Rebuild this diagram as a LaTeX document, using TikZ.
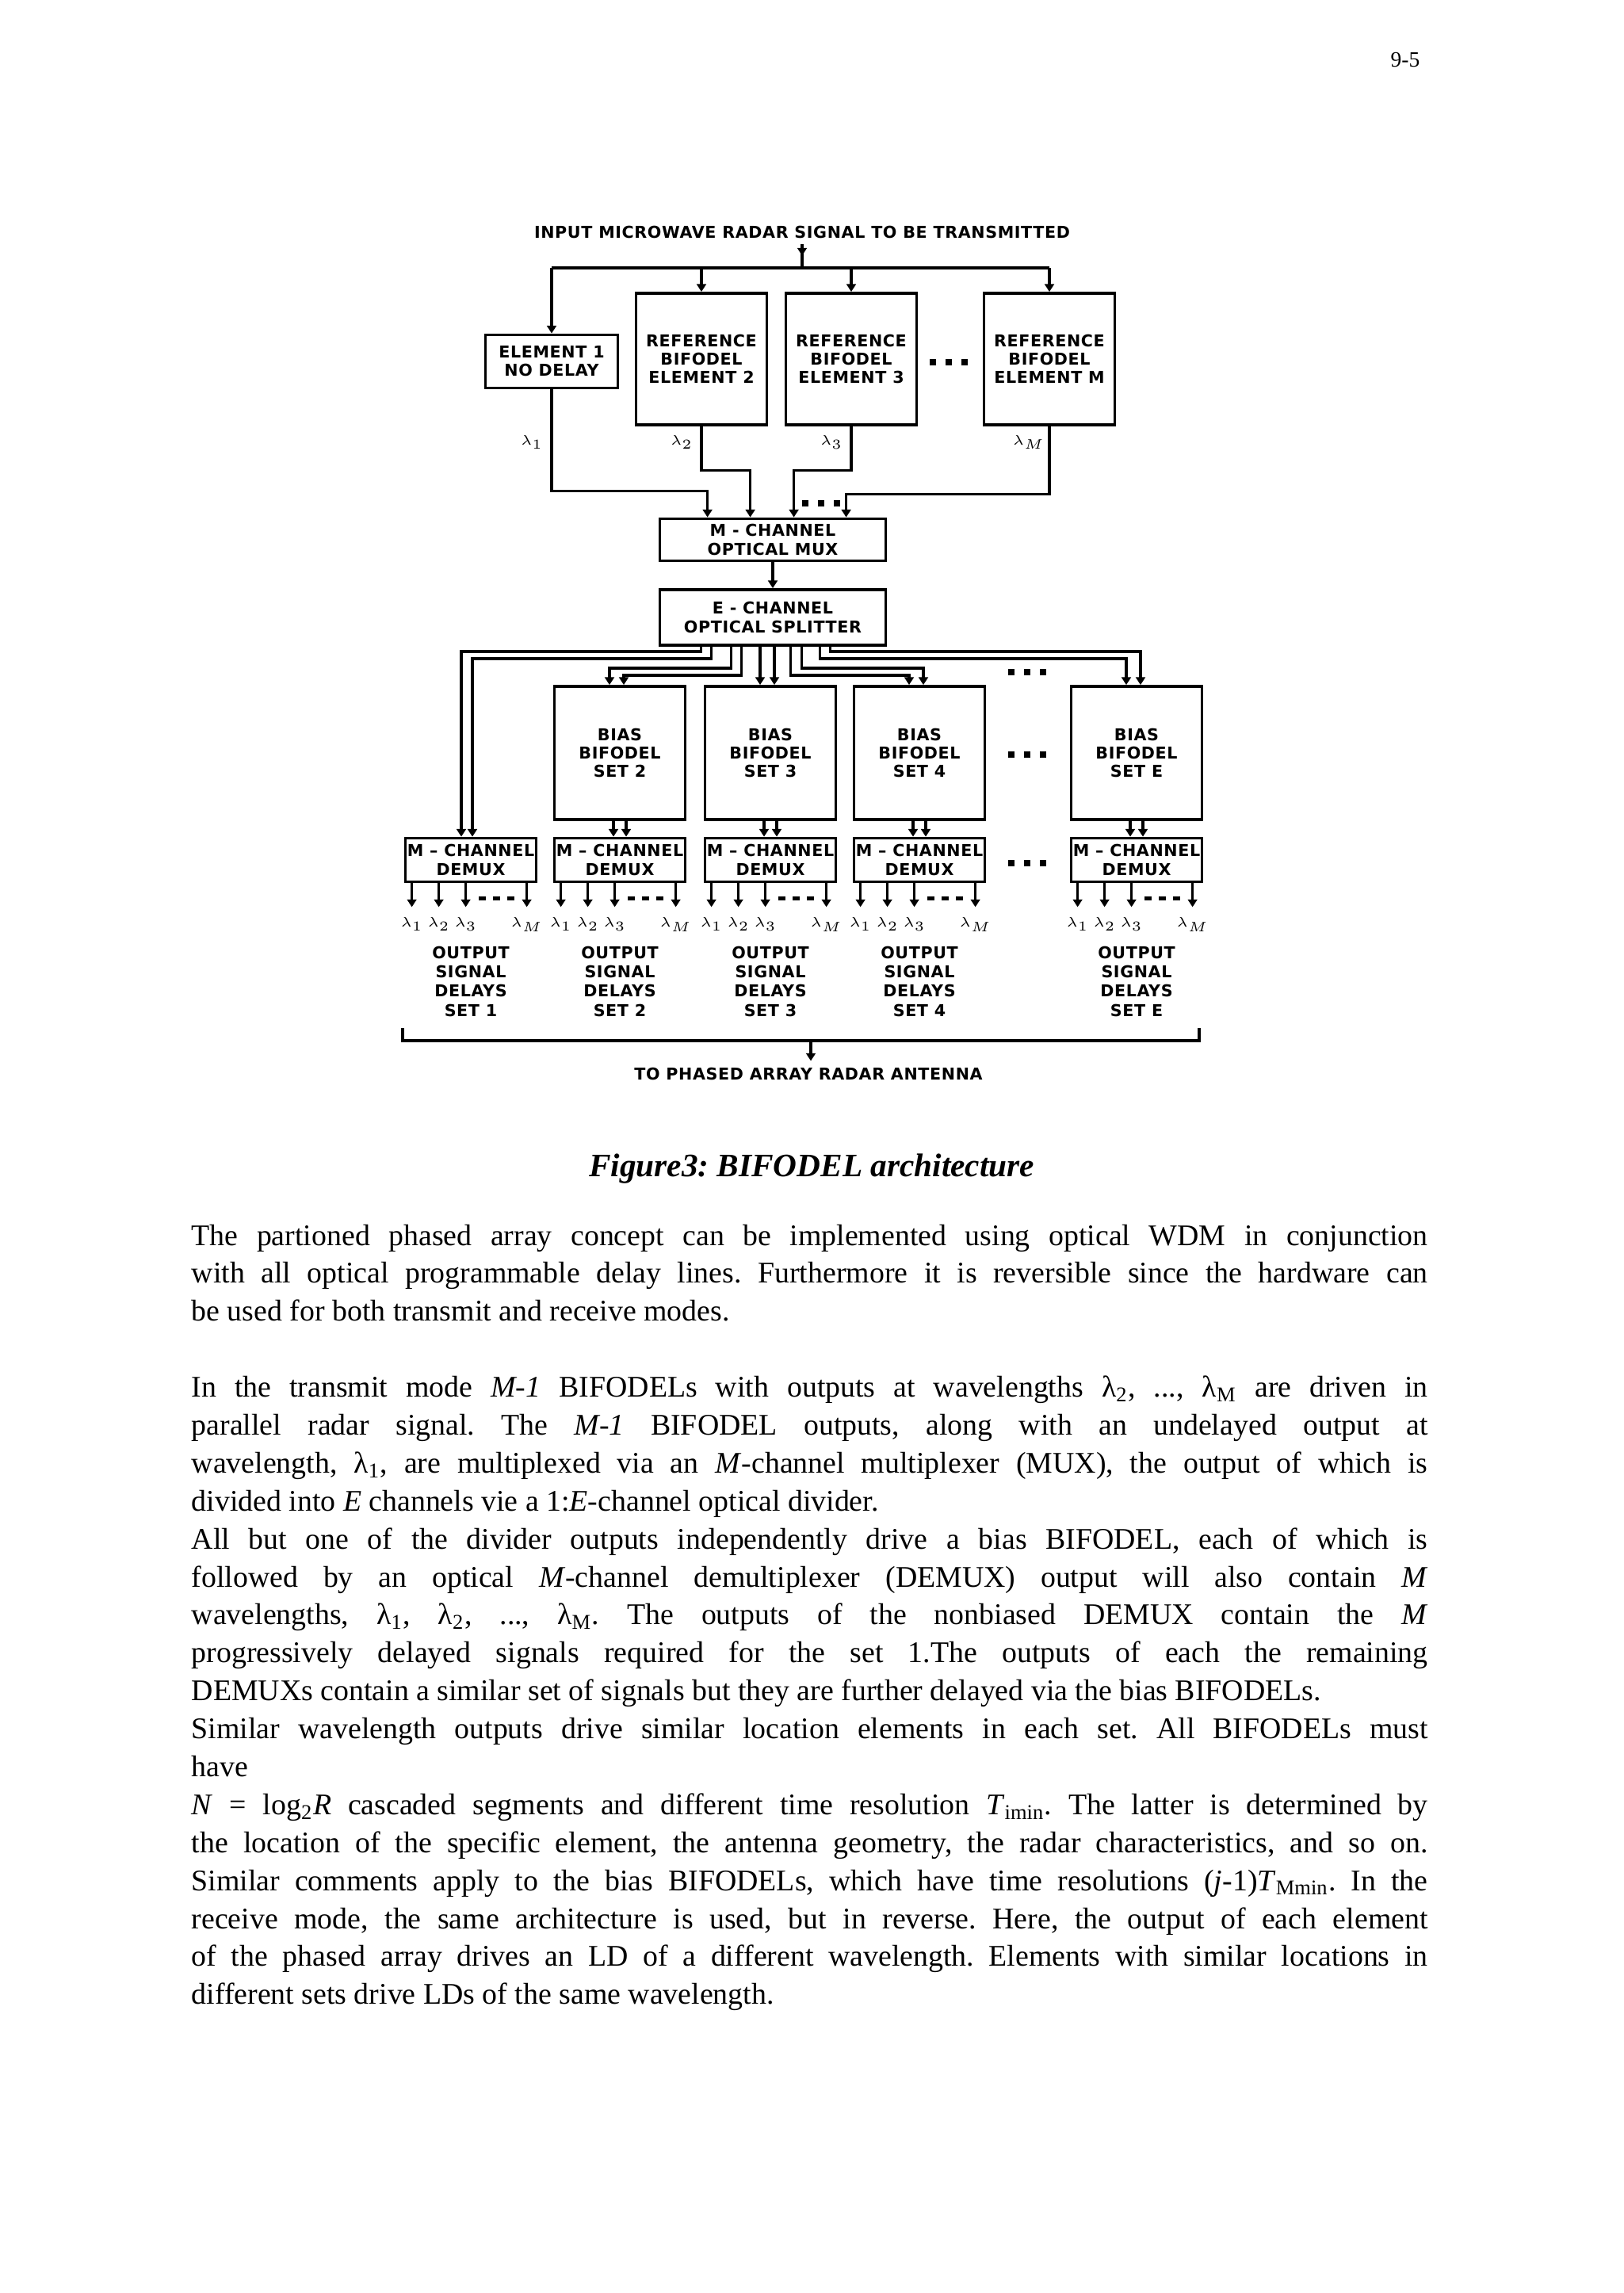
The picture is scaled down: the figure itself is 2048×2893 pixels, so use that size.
\documentclass[tikz,border=0pt]{standalone}
\usepackage{fontspec}
\setmainfont{Liberation Serif}
\newfontfamily\blockfont[LetterSpace=3]{DejaVu Sans}
\usetikzlibrary{positioning,calc,arrows.meta}

\def\px{0.29067pt} % one pixel of the page
\newcommand{\dotrow}{\rule{2.3pt}{2.3pt}\hspace{3.4pt}\rule{2.3pt}{2.3pt}\hspace{3.4pt}\rule{2.3pt}{2.3pt}}
\newcommand{\dashrow}{\rule{2.6pt}{1.3pt}\hspace{2.6pt}\rule{2.6pt}{1.3pt}\hspace{2.6pt}\rule{2.6pt}{1.3pt}}
\newcommand{\fullline}[1]{\makebox[\linewidth][s]{#1}\par}
\newcommand{\lastline}[1]{\makebox[\linewidth][l]{#1}\par}
\frenchspacing

\tikzset{
  blk/.style={draw, line width=1.1pt, inner sep=0pt, align=center,
    font=\blockfont\bfseries\fontsize{6}{6.7}\selectfont},
  lbl/.style={inner sep=0pt, align=center, font=\blockfont\bfseries\fontsize{6}{7}\selectfont},
  lam/.style={inner sep=0pt, font=\fontsize{5}{5}\selectfont},
  wire/.style={line width=0.9pt},
  arr/.style={wire, -{Triangle[width=3.4pt,length=2.8pt]}},
}

\begin{document}
\begin{tikzpicture}[x=\px, y=-\px]
  \useasboundingbox (0,0) rectangle (2048,2893);
  \fill[white] (0,0) rectangle (2048,2893);
  \node[anchor=base east, inner sep=0pt, font=\fontsize{8}{9}\selectfont] (pagenum) at (1792,85) {9-5};

  % input and reference BIFODELs
  \node[lbl] (title) at (1012,293) {INPUT MICROWAVE RADAR SIGNAL TO BE TRANSMITTED};
  \coordinate (tin) at ($(title.south)+(0,7)$);
  \coordinate (busL) at (696,338);
  \coordinate (busR) at (1324,338);
  \node[blk, minimum width=167*\px, minimum height=67*\px] (elem1) at (696,456) {ELEMENT 1\\NO DELAY};
  \node[blk, minimum width=165*\px, minimum height=166*\px] (ref2) at (885,453) {REFERENCE\\BIFODEL\\ELEMENT 2};
  \node[blk, minimum width=165*\px, minimum height=166*\px] (ref3) at (1074,453) {REFERENCE\\BIFODEL\\ELEMENT 3};
  \node[blk, minimum width=165*\px, minimum height=166*\px] (refM) at (1324,453) {REFERENCE\\BIFODEL\\ELEMENT M};
  \node (dotsA) at (1197,457) {\dotrow};
  \draw[wire] (tin) -- (tin |- busL);
  \draw[arr] (tin) -- ++(0,14);
  \draw[wire] (busL) -- (busR);
  \draw[arr] (busL) -- (elem1.north);
  \draw[arr] (ref2.north |- busL) -- (ref2.north);
  \draw[arr] (ref3.north |- busL) -- (ref3.north);
  \draw[arr] (busR) -- (refM.north);

  % multiplexer
  \node[blk, minimum width=285*\px, minimum height=53*\px] (mux) at (975,681) {M - CHANNEL\\OPTICAL MUX};
  \foreach \i/\dx in {1/62,2/116,3/171,4/237}
    \coordinate (m\i) at ($(mux.north west)+(\dx,0)$);
  \draw[arr] (elem1.south) -- ++(0,128) -| (m1);
  \draw[arr] (ref2.south) -- ++(0,56) -| (m2);
  \draw[arr] (ref3.south) -- ++(0,56) -| (m3);
  \draw[arr] (refM.south) -- ++(0,86) -| (m4);
  \node (dotsB) at (1036,635) {\dotrow};
  \node[lam] (lam1) at (671,558) {$\lambda_1$};
  \node[lam] (lam2) at (860,558) {$\lambda_2$};
  \node[lam] (lam3) at (1049,558) {$\lambda_3$};
  \node[lam] (lamM) at (1298,558) {$\lambda_M$};

  % splitter
  \node[blk, minimum width=285*\px, minimum height=70*\px] (split) at (975,779) {E - CHANNEL\\OPTICAL SPLITTER};
  \draw[arr] (mux.south) -- (split.north);

  % bias BIFODELs and demultiplexers
  \foreach \n/\cx in {2/782,3/972,4/1160,E/1434} {
    \node[blk, minimum width=165*\px, minimum height=168*\px] (bias\n) at (\cx,950) {BIAS\\BIFODEL\\SET \n};
    \node[blk, minimum width=165*\px, minimum height=55*\px] (demux\n) at (\cx,1085) {M – CHANNEL\\DEMUX};
    \foreach \dx in {-8,8}
      \draw[arr] ($(bias\n.south)+(\dx,0)$) -- ($(demux\n.north)+(\dx,0)$);
    \coordinate (t\n a) at ($(bias\n.north)+(-13,0)$);
    \coordinate (t\n b) at ($(bias\n.north)+(5,0)$);
  }
  \node[blk, minimum width=165*\px, minimum height=55*\px] (demux1) at (594,1085) {M – CHANNEL\\DEMUX};
  \coordinate (d1a) at ($(demux1.north)+(-12,0)$);
  \coordinate (d1b) at ($(demux1.north)+(2,0)$);
  \node (dotsC) at (1296,848) {\dotrow};
  \node (dotsD) at (1296,952) {\dotrow};
  \node (dotsE) at (1296,1089) {\dotrow};

  % splitter outputs, in pairs
  \coordinate (lvA) at (0,822);
  \coordinate (lvB) at (0,831);
  \coordinate (lvC) at (0,843);
  \coordinate (lvD) at (0,852);
  \foreach \s/\lv/\t in {54/lvA/d1a, 67/lvB/d1b, 92/lvC/t2a, 105/lvD/t2b,
                         167/lvD/t4a, 181/lvC/t4b, 204/lvB/tEa, 217/lvA/tEb}
    \draw[arr] ($(split.south west)+(\s,0)$) coordinate (sp) -- (sp |- \lv) -- (\t |- \lv) -- (\t);
  \draw[arr] (split.south -| t3a) -- (t3a);
  \draw[arr] (split.south -| t3b) -- (t3b);

  % output signal delays
  \foreach \n in {1,2,3,4,E} {
    \foreach \k/\dx/\lab in {1/10/1,2/44/2,3/78/3,4/155/M} {
      \coordinate (o\n\k) at ($(demux\n.south west)+(\dx,0)$);
      \draw[arr] (o\n\k) -- ++(0,30);
      \node[lam] (lam\n\k) at ($(o\n\k)+(0,52)$) {$\lambda_{\lab}$};
    }
    \node[inner sep=0pt] (dash\n) at ($(demux\n.south west)+(117,19)$) {\dashrow};
    \node[lbl] (out\n) at ($(demux\n.south)+(0,124)$) {OUTPUT\\SIGNAL\\DELAYS\\SET \n};
  }

  % to the antenna
  \coordinate (obL) at (508,1297);
  \coordinate (obR) at (1513,1297);
  \coordinate (obM) at (1023,1313);
  \draw[wire, line width=1.1pt] (obL) -- (obL |- obM) -- (obR |- obM) -- (obR);
  \node[lbl] (antenna) at (1020,1355) {TO PHASED ARRAY RADAR ANTENNA};
  \draw[arr] (obM) -- ($(obM |- antenna.north)+(0,-8)$);

  % caption and text
  \node[anchor=base, inner sep=0pt, font=\fontsize{12}{14}\selectfont\bfseries\itshape] (caption) at (1024,1484) {Figure3: BIFODEL architecture};
  \node[anchor=base west, inner sep=0pt] (body) at (241,1571) {\parbox[t]{453.4pt}{%
    \fontsize{11}{13.92}\selectfont\parindent=0pt\parskip=0pt
    \fullline{The partioned phased array concept can be implemented using optical WDM in conjunction}
    \fullline{with all optical programmable delay lines. Furthermore it is reversible since the hardware can}
    \lastline{be used for both transmit and receive modes.}
    \vspace{13.92pt}
    \fullline{In the transmit mode \textit{M-1} BIFODELs with outputs at wavelengths λ\textsubscript{2}, ..., λ\textsubscript{M} are driven in}
    \fullline{parallel radar signal. The \textit{M-1} BIFODEL outputs, along with an undelayed output at}
    \fullline{wavelength, λ\textsubscript{1}, are multiplexed via an \textit{M}-channel multiplexer (MUX), the output of which is}
    \lastline{divided into \textit{E} channels vie a 1:\textit{E}-channel optical divider.}
    \fullline{All but one of the divider outputs independently drive a bias BIFODEL, each of which is}
    \fullline{followed by an optical \textit{M}-channel demultiplexer (DEMUX) output will also contain \textit{M}}
    \fullline{wavelengths, λ\textsubscript{1}, λ\textsubscript{2}, ..., λ\textsubscript{M}. The outputs of the nonbiased DEMUX contain the \textit{M}}
    \fullline{progressively delayed signals required for the set 1.The outputs of each the remaining}
    \lastline{DEMUXs contain a similar set of signals but they are further delayed via the bias BIFODELs.}
    \fullline{Similar wavelength outputs drive similar location elements in each set. All BIFODELs must}
    \lastline{have}
    \fullline{\textit{N} = log\textsubscript{2}\textit{R} cascaded segments and different time resolution \textit{T}\textsubscript{imin}. The latter is determined by}
    \fullline{the location of the specific element, the antenna geometry, the radar characteristics, and so on.}
    \fullline{Similar comments apply to the bias BIFODELs, which have time resolutions (\textit{j}-1)\textit{T}\textsubscript{Mmin}. In the}
    \fullline{receive mode, the same architecture is used, but in reverse. Here, the output of each element}
    \fullline{of the phased array drives an LD of a different wavelength. Elements with similar locations in}
    \lastline{different sets drive LDs of the same wavelength.}}};
\end{tikzpicture}
\end{document}
